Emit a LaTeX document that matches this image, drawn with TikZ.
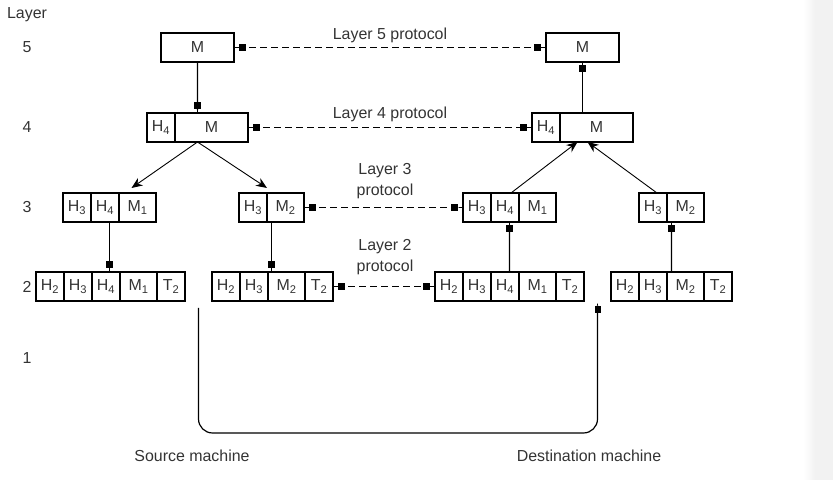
\documentclass[tikz,border=0pt]{standalone}
\usepackage{fontspec}
\setmainfont{Liberation Sans}
\usetikzlibrary{arrows.meta, positioning, fit, calc}

\begin{document}
\begin{tikzpicture}[x=1bp, y=1bp,
    every node/.style={font=\fontsize{16}{21}\selectfont, text=black!80},
    cell/.style={draw=black, line width=1.3bp, minimum height=29bp, inner sep=0pt, outer sep=0pt},
    hcell/.style={cell, minimum width=28bp},
    mcell/.style={cell, minimum width=37bp},
    bigcell/.style={cell, minimum width=73bp},
    wholebox/.style={fit=#1, inner sep=0pt, outer sep=0pt},
    passdown/.style={line width=1.3bp,
                     -{Square[length=7bp, width=7bp, sep=0pt] Rectangle[length=3.5bp, width=1.3bp, sep=0pt]}},
    fanout/.style={line width=0.9bp, -{Stealth[length=11bp, width=9bp]}},
    peerline/.style={line width=1.2bp, dash pattern=on 7bp off 4bp,
                     {Rectangle[length=5bp, width=1.2bp, sep=0pt] Square[length=7bp, width=7bp, sep=0pt]}-%
                     {Square[length=7bp, width=7bp, sep=0pt] Rectangle[length=5bp, width=1.2bp, sep=0pt]}}
]

    \useasboundingbox (0,0) rectangle (833,480);
    \shade[left color=white, right color=black!5] (803,0) rectangle (815,480);
    \fill[black!5] (815,0) rectangle (833,480);

    % layer numbers
    \node (layerhead) at (27,465) {Layer};
    \foreach \n/\y in {5/432.5, 4/352.5, 3/272.5, 2/193.5, 1/122}
        \node (num\n) at (27,\y) {\n};

    % source machine
    \node[bigcell, anchor=west] (s5) at (161,432.5) {M};

    \node[hcell, anchor=west] (s4h) at (147,352.5) {H\textsubscript{4}};
    \node[bigcell, right=0pt of s4h] (s4m) {M};
    \node[wholebox={(s4h)(s4m)}] (s4) {};

    \node[hcell, anchor=west] (s3ah3) at (63,272.5) {H\textsubscript{3}};
    \node[hcell, right=0pt of s3ah3] (s3ah4) {H\textsubscript{4}};
    \node[mcell, right=0pt of s3ah4] (s3am1) {M\textsubscript{1}};
    \node[wholebox={(s3ah3)(s3am1)}] (s3a) {};

    \node[hcell, anchor=west] (s3bh3) at (239,272.5) {H\textsubscript{3}};
    \node[mcell, right=0pt of s3bh3] (s3bm2) {M\textsubscript{2}};
    \node[wholebox={(s3bh3)(s3bm2)}] (s3b) {};

    \node[hcell, anchor=west] (s2ah2) at (36,193.5) {H\textsubscript{2}};
    \node[hcell, right=0pt of s2ah2] (s2ah3) {H\textsubscript{3}};
    \node[hcell, right=0pt of s2ah3] (s2ah4) {H\textsubscript{4}};
    \node[mcell, right=0pt of s2ah4] (s2am1) {M\textsubscript{1}};
    \node[hcell, right=0pt of s2am1] (s2at2) {T\textsubscript{2}};
    \node[wholebox={(s2ah2)(s2at2)}] (s2a) {};

    \node[hcell, anchor=west] (s2bh2) at (212,193.5) {H\textsubscript{2}};
    \node[hcell, right=0pt of s2bh2] (s2bh3) {H\textsubscript{3}};
    \node[mcell, right=0pt of s2bh3] (s2bm2) {M\textsubscript{2}};
    \node[hcell, right=0pt of s2bm2] (s2bt2) {T\textsubscript{2}};
    \node[wholebox={(s2bh2)(s2bt2)}] (s2b) {};

    % destination machine
    \node[bigcell, anchor=west] (d5) at (546,432.5) {M};

    \node[hcell, anchor=west] (d4h) at (532,352.5) {H\textsubscript{4}};
    \node[bigcell, right=0pt of d4h] (d4m) {M};
    \node[wholebox={(d4h)(d4m)}] (d4) {};

    \node[hcell, anchor=west] (d3ah3) at (463,272.5) {H\textsubscript{3}};
    \node[hcell, right=0pt of d3ah3] (d3ah4) {H\textsubscript{4}};
    \node[mcell, right=0pt of d3ah4] (d3am1) {M\textsubscript{1}};
    \node[wholebox={(d3ah3)(d3am1)}] (d3a) {};

    \node[hcell, anchor=west] (d3bh3) at (639,272.5) {H\textsubscript{3}};
    \node[mcell, right=0pt of d3bh3] (d3bm2) {M\textsubscript{2}};
    \node[wholebox={(d3bh3)(d3bm2)}] (d3b) {};

    \node[hcell, anchor=west] (d2ah2) at (435,193.5) {H\textsubscript{2}};
    \node[hcell, right=0pt of d2ah2] (d2ah3) {H\textsubscript{3}};
    \node[hcell, right=0pt of d2ah3] (d2ah4) {H\textsubscript{4}};
    \node[mcell, right=0pt of d2ah4] (d2am1) {M\textsubscript{1}};
    \node[hcell, right=0pt of d2am1] (d2at2) {T\textsubscript{2}};
    \node[wholebox={(d2ah2)(d2at2)}] (d2a) {};

    \node[hcell, anchor=west] (d2bh2) at (611,193.5) {H\textsubscript{2}};
    \node[hcell, right=0pt of d2bh2] (d2bh3) {H\textsubscript{3}};
    \node[mcell, right=0pt of d2bh3] (d2bm2) {M\textsubscript{2}};
    \node[hcell, right=0pt of d2bm2] (d2bt2) {T\textsubscript{2}};
    \node[wholebox={(d2bh2)(d2bt2)}] (d2b) {};

    % going down on the source side
    \draw[passdown] (s5.south) -- (s4.north);
    \draw[fanout] (s4.south) -- ($(s3a.north)+(22,5)$);
    \draw[fanout] (s4.south) -- ($(s3b.north)+(-4.5,5)$);
    \draw[passdown] (s3a.south) -- (s3a.south |- s2a.north);
    \draw[passdown] (s3b.south) -- (s3b.south |- s2b.north);

    % going up on the destination side
    \draw[passdown] (d2a.north) -- (d3a.south);
    \draw[passdown] (d2b.north) -- (d3b.south);
    \draw[fanout] ($(d3a.north)+(1.5,0)$) -- ($(d4.south)+(-5,0)$);
    \draw[fanout] ($(d3b.north)+(-14.5,0)$) -- ($(d4.south)+(5,0)$);
    \draw[passdown] (d4.north) -- (d4.north |- d5.south);

    % peer protocols
    \draw[peerline] (s5.east) -- (d5.west);
    \draw[peerline] (s4.east) -- (d4.west);
    \draw[peerline] (s3b.east) -- (d3a.west);
    \draw[peerline] (s2b.east) -- (d2a.west);

    \node (l5) at (390,445) {Layer 5 protocol};
    \node (l4) at (390,366) {Layer 4 protocol};
    \node[align=center] (l3) at (385,299) {Layer 3\\protocol};
    \node[align=center] (l2) at (385,223) {Layer 2\\protocol};

    % physical medium
    \coordinate (srcwire) at ($(s2a.south east)!0.5!(s2b.south west)+(0,-7)$);
    \coordinate (dstwire) at ($(d2a.south east)!0.5!(d2b.south west)+(0,-2)$);
    \draw[line width=1.2bp, rounded corners=14bp,
          -{Square[length=7bp, width=6bp, sep=0pt] Rectangle[length=3bp, width=1.2bp, sep=0pt]}]
        (srcwire) -- (srcwire |- 0,47) -- (dstwire |- 0,47) -- (dstwire);

    \node (srcname) at (192,24) {Source machine};
    \node (dstname) at (589,24) {Destination machine};
\end{tikzpicture}
\end{document}
